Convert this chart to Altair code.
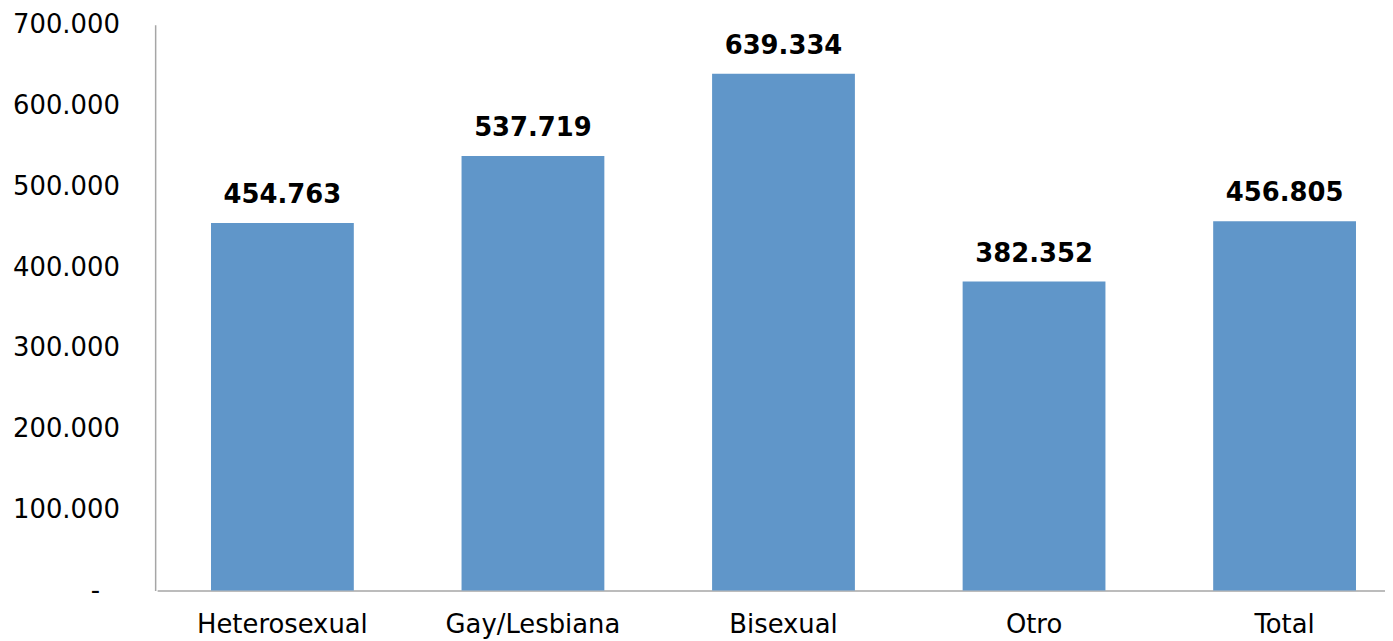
import altair as alt
import pandas as pd

categories = ["Heterosexual", "Gay/Lesbiana", "Bisexual", "Otro", "Total"]
values = [454763, 537719, 639334, 382352, 456805]
y_ticks = [0, 100000, 200000, 300000, 400000, 500000, 600000, 700000]

df = pd.DataFrame({"cat": categories, "val": values})

FONT = "DejaVu Sans"
fmt = "replace(format(datum.value, ',d'), ',', '.')"

base = alt.Chart(df).encode(
    x=alt.X(
        "cat:N",
        sort=categories,
        scale=alt.Scale(range=[2, 1262], paddingInner=0.43, paddingOuter=0.215),
        axis=alt.Axis(
            title=None, labelAngle=0, ticks=False, labelFontSize=26, labelFont=FONT,
            labelColor="#000000", labelPadding=21, domainColor="#a6a6a6", domainWidth=1.5,
        ),
    ),
    y=alt.Y(
        "val:Q",
        scale=alt.Scale(domain=[0, 700000], nice=False),
        axis=alt.Axis(
            title=None, values=y_ticks, grid=False, ticks=False, labelFontSize=26,
            labelFont=FONT, labelColor="#000000",
            labelPadding={"condition": {"test": "datum.value == 0", "value": 56}, "value": 36},
            domainColor="#a6a6a6", domainWidth=1.5,
            labelExpr="datum.value == 0 ? '-' : " + fmt,
        ),
    ),
)

bars = base.mark_bar(color="#6096C9")
labels = base.mark_text(
    font=FONT, fontSize=26, fontWeight="bold", color="#000000",
    baseline="alphabetic", dy=-20,
).encode(text=alt.Text("label:N")).transform_calculate(
    label="replace(format(datum.val, ',d'), ',', '.')"
)

chart = (bars + labels).properties(
    width=1237, height=569,
    autosize=alt.AutoSizeParams(type="none"),
    padding={"left": 148, "top": 15, "right": 0, "bottom": 49},
).configure_view(stroke=None)

chart.save("out.html", embed_options={"renderer": "svg", "actions": False})
